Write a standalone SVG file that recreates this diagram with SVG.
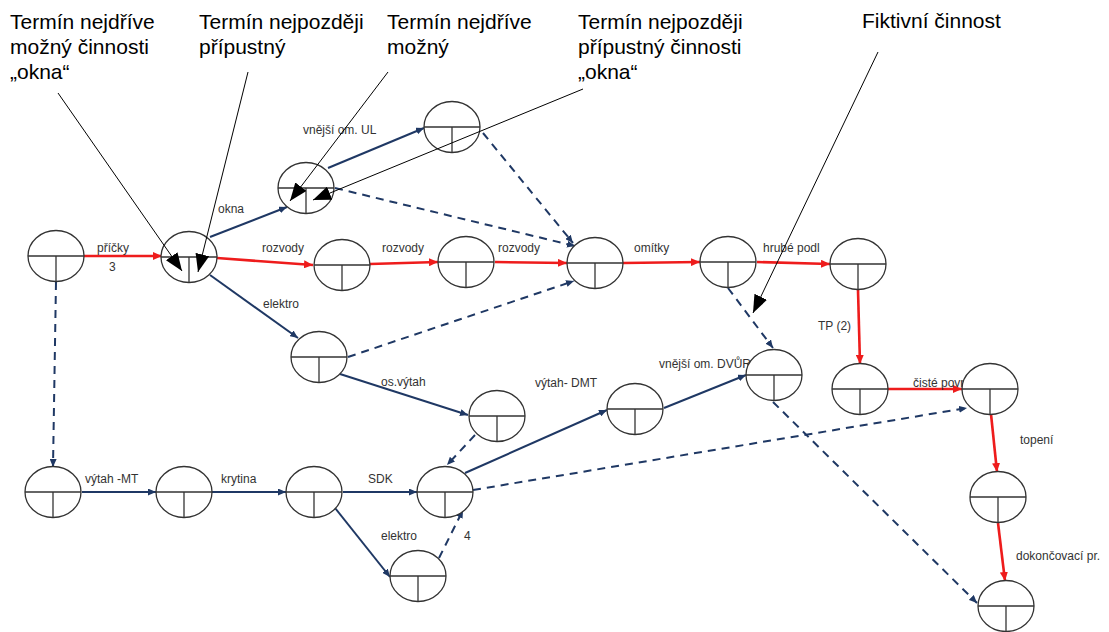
<svg xmlns="http://www.w3.org/2000/svg" width="1109" height="632" viewBox="0 0 1109 632">
<style>
.bg{fill:#ffffff}
.node ellipse{fill:#ffffff;stroke:#333333;stroke-width:1.3}
.node line{stroke:#333333;stroke-width:1.3}
.red{stroke:#ee1c1c;stroke-width:2.6;fill:none;marker-end:url(#arrRed)}
.navy{stroke:#1f3864;stroke-width:2;fill:none;marker-end:url(#arrNavy)}
.dash{stroke:#1f3864;stroke-width:2;fill:none;stroke-dasharray:8 6;marker-end:url(#arrNavy)}
.ann{stroke:#000000;stroke-width:1;fill:none;marker-end:url(#arrBig)}
.lbl{font-family:"Liberation Sans",Arial,sans-serif;font-size:12px;fill:#333333}
.big{font-family:"Liberation Sans",Arial,sans-serif;font-size:21px;fill:#000000}
</style>
<defs>
<marker id="arrRed" markerUnits="userSpaceOnUse" markerWidth="9" markerHeight="8" refX="9" refY="4" orient="auto"><path d="M0,0 L9,4 L0,8 z" fill="#ee1c1c"/></marker>
<marker id="arrNavy" markerUnits="userSpaceOnUse" markerWidth="8" markerHeight="7" refX="8" refY="3.5" orient="auto"><path d="M0,0 L8,3.5 L0,7 z" fill="#1f3864"/></marker>
<marker id="arrBig" markerUnits="userSpaceOnUse" markerWidth="18" markerHeight="14" refX="18" refY="7" orient="auto"><path d="M0,0 L18,7 L0,14 z" fill="#000000"/></marker>
</defs>
<rect class="bg" x="0" y="0" width="1109" height="632"/>

<g id="connectors">
<line class="red" x1="84" y1="256" x2="162" y2="256"/>
<line class="red" x1="217" y1="258" x2="313" y2="265"/>
<line class="red" x1="370" y1="264" x2="438" y2="262"/>
<line class="red" x1="495" y1="262" x2="567" y2="263"/>
<line class="red" x1="623" y1="263" x2="700" y2="262"/>
<line class="red" x1="757" y1="262" x2="830" y2="264"/>
<line class="red" x1="858" y1="290" x2="860" y2="364"/>
<line class="red" x1="888" y1="389" x2="962" y2="389"/>
<line class="red" x1="991" y1="414" x2="997" y2="472"/>
<line class="red" x1="998" y1="523" x2="1005" y2="581"/>

<line class="navy" x1="210" y1="237" x2="287" y2="207"/>
<line class="navy" x1="328" y1="168" x2="424" y2="128"/>
<line class="navy" x1="210" y1="275" x2="298" y2="338"/>
<line class="navy" x1="340" y1="374" x2="468" y2="415"/>
<line class="navy" x1="82" y1="492" x2="156" y2="492"/>
<line class="navy" x1="212" y1="492" x2="286" y2="492"/>
<line class="navy" x1="343" y1="492" x2="417" y2="492"/>
<line class="navy" x1="335" y1="508" x2="390" y2="577"/>
<line class="navy" x1="465" y1="473" x2="607" y2="410"/>
<line class="navy" x1="664" y1="408" x2="746" y2="375"/>

<line class="dash" x1="56" y1="282" x2="53" y2="467"/>
<line class="dash" x1="335" y1="188" x2="575" y2="246"/>
<line class="dash" x1="483" y1="133" x2="573" y2="243"/>
<line class="dash" x1="348" y1="357" x2="574" y2="281"/>
<line class="dash" x1="475" y1="435" x2="447" y2="465"/>
<line class="dash" x1="439" y1="558" x2="463" y2="510"/>
<line class="dash" x1="473" y1="490" x2="967" y2="408"/>
<line class="dash" x1="728" y1="288" x2="773" y2="348"/>
<line class="dash" x1="773" y1="402" x2="977" y2="603"/>
</g>

<g id="labels">
<text class="lbl" x="97" y="252">příčky</text>
<text class="lbl" x="109" y="271">3</text>
<text class="lbl" x="218" y="213">okna</text>
<text class="lbl" x="303" y="134">vnější om. UL</text>
<text class="lbl" x="262" y="252">rozvody</text>
<text class="lbl" x="382" y="252">rozvody</text>
<text class="lbl" x="498" y="252">rozvody</text>
<text class="lbl" x="634" y="252">omítky</text>
<text class="lbl" x="763" y="252">hrubé podl</text>
<text class="lbl" x="818" y="330">TP (2)</text>
<text class="lbl" x="263" y="308">elektro</text>
<text class="lbl" x="381" y="386">os.výtah</text>
<text class="lbl" x="535" y="387">výtah- DMT</text>
<text class="lbl" x="659" y="368">vnější om. DVŮR</text>
<text class="lbl" x="913" y="387">čisté povr</text>
<text class="lbl" x="1020" y="444">topení</text>
<text class="lbl" x="1016" y="560">dokončovací pr.</text>
<text class="lbl" x="85" y="483">výtah -MT</text>
<text class="lbl" x="221" y="483">krytina</text>
<text class="lbl" x="368" y="483">SDK</text>
<text class="lbl" x="381" y="540">elektro</text>
<text class="lbl" x="464" y="540">4</text>
</g>

<g id="n1" class="node" transform="translate(56,256)"><ellipse rx="28" ry="25.5"/><line x1="-28" y1="0" x2="28" y2="0"/><line x1="0" y1="0" x2="0" y2="25.5"/></g>
<g id="n2" class="node" transform="translate(189,257)"><ellipse rx="28" ry="25.5"/><line x1="-28" y1="0" x2="28" y2="0"/><line x1="0" y1="0" x2="0" y2="25.5"/></g>
<g id="n3" class="node" transform="translate(306,188)"><ellipse rx="28" ry="25.5"/><line x1="-28" y1="0" x2="28" y2="0"/><line x1="0" y1="0" x2="0" y2="25.5"/></g>
<g id="n4" class="node" transform="translate(452,127)"><ellipse rx="28" ry="25.5"/><line x1="-28" y1="0" x2="28" y2="0"/><line x1="0" y1="0" x2="0" y2="25.5"/></g>
<g id="n5" class="node" transform="translate(342,265)"><ellipse rx="28" ry="25.5"/><line x1="-28" y1="0" x2="28" y2="0"/><line x1="0" y1="0" x2="0" y2="25.5"/></g>
<g id="n6" class="node" transform="translate(466,262)"><ellipse rx="28" ry="25.5"/><line x1="-28" y1="0" x2="28" y2="0"/><line x1="0" y1="0" x2="0" y2="25.5"/></g>
<g id="n7" class="node" transform="translate(595,263)"><ellipse rx="28" ry="25.5"/><line x1="-28" y1="0" x2="28" y2="0"/><line x1="0" y1="0" x2="0" y2="25.5"/></g>
<g id="n8" class="node" transform="translate(728,262)"><ellipse rx="28" ry="25.5"/><line x1="-28" y1="0" x2="28" y2="0"/><line x1="0" y1="0" x2="0" y2="25.5"/></g>
<g id="n9" class="node" transform="translate(858,264)"><ellipse rx="28" ry="25.5"/><line x1="-28" y1="0" x2="28" y2="0"/><line x1="0" y1="0" x2="0" y2="25.5"/></g>
<g id="n10" class="node" transform="translate(860,389)"><ellipse rx="28" ry="25.5"/><line x1="-28" y1="0" x2="28" y2="0"/><line x1="0" y1="0" x2="0" y2="25.5"/></g>
<g id="n11" class="node" transform="translate(774,375)"><ellipse rx="28" ry="25.5"/><line x1="-28" y1="0" x2="28" y2="0"/><line x1="0" y1="0" x2="0" y2="25.5"/></g>
<g id="n12" class="node" transform="translate(990,389)"><ellipse rx="28" ry="25.5"/><line x1="-28" y1="0" x2="28" y2="0"/><line x1="0" y1="0" x2="0" y2="25.5"/></g>
<g id="n13" class="node" transform="translate(635,409)"><ellipse rx="28" ry="25.5"/><line x1="-28" y1="0" x2="28" y2="0"/><line x1="0" y1="0" x2="0" y2="25.5"/></g>
<g id="n14" class="node" transform="translate(497,416)"><ellipse rx="28" ry="25.5"/><line x1="-28" y1="0" x2="28" y2="0"/><line x1="0" y1="0" x2="0" y2="25.5"/></g>
<g id="n15" class="node" transform="translate(319,357)"><ellipse rx="28" ry="25.5"/><line x1="-28" y1="0" x2="28" y2="0"/><line x1="0" y1="0" x2="0" y2="25.5"/></g>
<g id="n16" class="node" transform="translate(53,492)"><ellipse rx="28" ry="25.5"/><line x1="-28" y1="0" x2="28" y2="0"/><line x1="0" y1="0" x2="0" y2="25.5"/></g>
<g id="n17" class="node" transform="translate(184,492)"><ellipse rx="28" ry="25.5"/><line x1="-28" y1="0" x2="28" y2="0"/><line x1="0" y1="0" x2="0" y2="25.5"/></g>
<g id="n18" class="node" transform="translate(314,492)"><ellipse rx="28" ry="25.5"/><line x1="-28" y1="0" x2="28" y2="0"/><line x1="0" y1="0" x2="0" y2="25.5"/></g>
<g id="n19" class="node" transform="translate(445,492)"><ellipse rx="28" ry="25.5"/><line x1="-28" y1="0" x2="28" y2="0"/><line x1="0" y1="0" x2="0" y2="25.5"/></g>
<g id="n20" class="node" transform="translate(418,576)"><ellipse rx="28" ry="25.5"/><line x1="-28" y1="0" x2="28" y2="0"/><line x1="0" y1="0" x2="0" y2="25.5"/></g>
<g id="n21" class="node" transform="translate(998,497)"><ellipse rx="28" ry="25.5"/><line x1="-28" y1="0" x2="28" y2="0"/><line x1="0" y1="0" x2="0" y2="25.5"/></g>
<g id="n22" class="node" transform="translate(1006,606)"><ellipse rx="28" ry="25.5"/><line x1="-28" y1="0" x2="28" y2="0"/><line x1="0" y1="0" x2="0" y2="25.5"/></g>

<g id="annotations">
<text class="big" x="10" y="29">Termín nejdříve</text>
<text class="big" x="10" y="54">možný činnosti</text>
<text class="big" x="10" y="79">„okna“</text>
<text class="big" x="199" y="29">Termín nejpozději</text>
<text class="big" x="199" y="54">přípustný</text>
<text class="big" x="387" y="29">Termín nejdříve</text>
<text class="big" x="387" y="54">možný</text>
<text class="big" x="578" y="29">Termín nejpozději</text>
<text class="big" x="578" y="54">přípustný činnosti</text>
<text class="big" x="578" y="79">„okna“</text>
<text class="big" x="862" y="28">Fiktivní činnost</text>
<line class="ann" x1="58" y1="93" x2="182" y2="271"/>
<line class="ann" x1="248" y1="72" x2="198" y2="272"/>
<line class="ann" x1="388" y1="72" x2="290" y2="201"/>
<line class="ann" x1="583" y1="89" x2="313" y2="200"/>
<line class="ann" x1="878" y1="52" x2="753" y2="313"/>
</g>
</svg>
